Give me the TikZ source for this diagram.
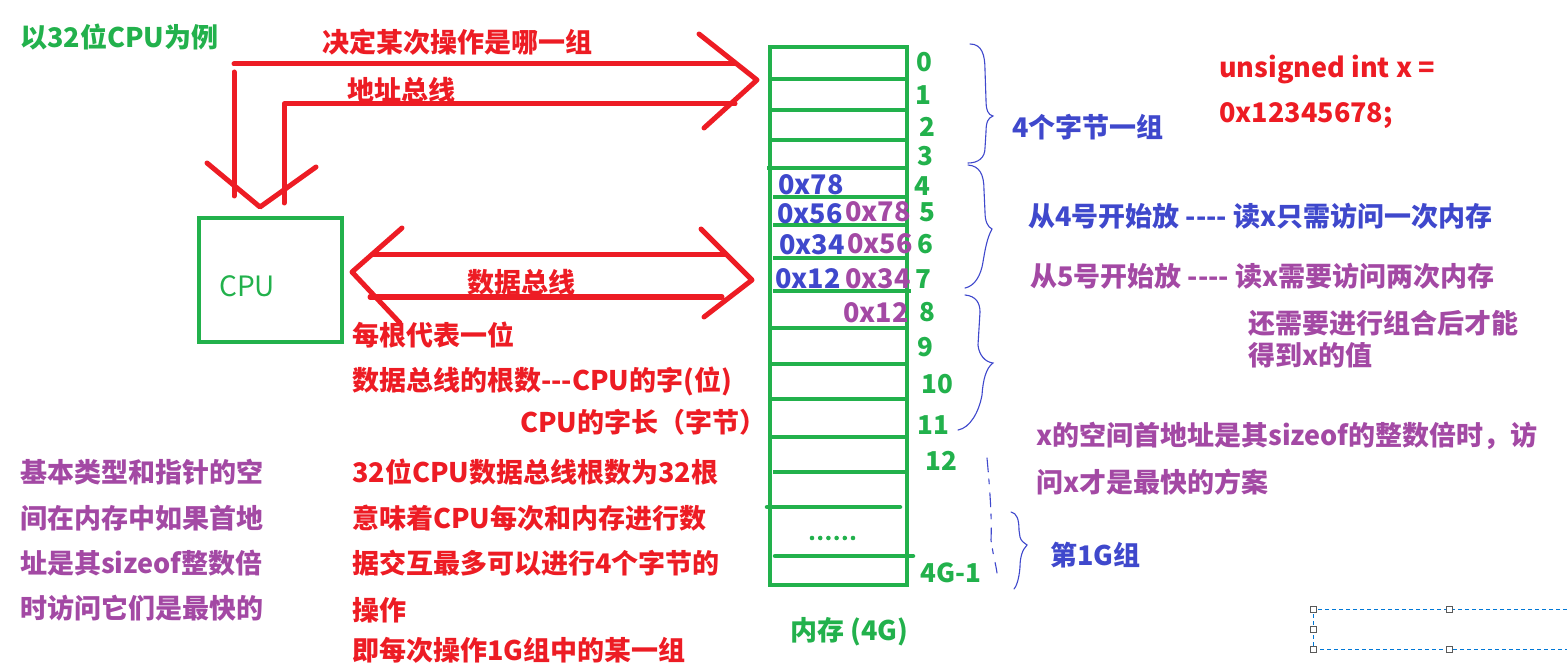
\documentclass[tikz,border=0pt]{standalone}
\usepackage{fontspec}
\setmainfont{Noto Sans CJK SC}
\definecolor{pred}{HTML}{ED1C24}
\definecolor{pgreen}{HTML}{22B14C}
\definecolor{pblue}{HTML}{3F48CC}
\definecolor{ppurple}{HTML}{A349A4}
\definecolor{selblue}{HTML}{0078D7}
\begin{document}
\begin{tikzpicture}[x=1pt,y=-1pt,
  txt/.style={inner sep=0pt, anchor=base west, font=\fontsize{27}{31}\selectfont\bfseries},
  num/.style={inner sep=0pt, anchor=base, text=pgreen, font=\fontsize{26}{30}\selectfont\bfseries},
  bus/.style={draw=pred, line width=5pt, line cap=round, line join=round},
  mem/.style={draw=pgreen, line width=4.5pt},
  brace/.style={draw=pblue, line width=1.1pt, line cap=round},
  handle/.style={draw=black!65, fill=white, line width=0.8pt, minimum size=6pt, inner sep=0pt}]
\useasboundingbox (0,0) rectangle (1567,671);

% ---------- address bus ----------
\coordinate (a1) at (234,64);   \coordinate (a2) at (735,64);
\coordinate (a3) at (234,72);   \coordinate (a4) at (234,196);
\coordinate (b1) at (284,203);  \coordinate (b2) at (284,104);  \coordinate (b3) at (735,104);
\coordinate (ra1) at (699,34);  \coordinate (ra2) at (757,80);  \coordinate (ra3) at (704,128);
\coordinate (da1) at (207,163); \coordinate (da2) at (260,207); \coordinate (da3) at (316,167);
\draw[bus] (a1) -- (a2);
\draw[bus] (a3) -- (a4);
\draw[bus] (b1) -- (b2) -- (b3);
\draw[bus] (ra1) -- (ra2) -- (ra3);
\draw[bus] (da1) -- (da2) -- (da3);
\node[txt, text=pred] (t1) at (322,53) {决定某次操作是哪一组};
\node[txt, text=pred] (t2) at (347,101) {地址总线};

% ---------- CPU ----------
\draw[draw=pgreen, line width=4.5pt] (199,218) rectangle (342,342);
\node[inner sep=0pt, anchor=base west, text=pgreen, font=\fontsize{28}{32}\selectfont] (cpu) at (219,296) {CPU};
\node[txt, text=pgreen] (t0) at (20,48) {以32位CPU为例};

% ---------- data bus ----------
\coordinate (d1) at (372,255); \coordinate (d2) at (725,255);
\coordinate (d3) at (370,297); \coordinate (d4) at (722,297);
\coordinate (la1) at (402,228); \coordinate (la2) at (352,272); \coordinate (la3) at (400,323);
\coordinate (rb1) at (701,229); \coordinate (rb2) at (752,280); \coordinate (rb3) at (704,317);
\draw[bus] (d1) -- (d2);
\draw[bus] (d3) -- (d4);
\draw[bus] (la1) -- (la2) -- (la3);
\draw[bus] (rb1) -- (rb2) -- (rb3);
\node[txt, text=pred] (t3) at (467,292) {数据总线};

% ---------- red notes ----------
\node[txt, text=pred] (r1) at (352,345) {每根代表一位};
\node[txt, text=pred] (r2) at (352,390) {数据总线的根数-{}-{}-CPU的字(位)};
\node[txt, text=pred] (r3) at (520,432) {CPU的字长（字节）};
\node[txt, text=pred] (r4) at (352,482) {32位CPU数据总线根数为32根};
\node[txt, text=pred] (r5) at (352,528) {意味着CPU每次和内存进行数};
\node[txt, text=pred] (r6) at (352,573) {据交互最多可以进行4个字节的};
\node[txt, text=pred] (r7) at (352,620) {操作};
\node[txt, text=pred] (r8) at (352,660) {即每次操作1G组中的某一组};

% ---------- purple notes, left ----------
\node[txt, text=ppurple] (p1) at (20,482) {基本类型和指针的空};
\node[txt, text=ppurple] (p2) at (20,528) {间在内存中如果首地};
\node[txt, text=ppurple] (p3) at (20,573) {址是其sizeof整数倍};
\node[txt, text=ppurple] (p4) at (20,618) {时访问它们是最快的};

% ---------- memory column ----------
\draw[mem] (770,47) rectangle (907,585);
\foreach \yy in {79,110,140} \draw[mem] (770,\yy) -- (907,\yy);
\draw[mem] (767,168) -- (907,168);
\draw[mem] (773,197) -- (905,197);
\draw[mem] (773,225) -- (907,225);
\draw[mem] (773,258) -- (907,258);
\draw[mem] (773,291) -- (911,291);
\foreach \yy in {328,364,399,437} \draw[mem] (770,\yy) -- (907,\yy);
\draw[mem] (773,472) -- (905,472);
\draw[mem, line cap=round] (767,507) -- (900,507);
\draw[mem, line cap=round] (775,556) -- (913,556);
\foreach \i in {0,...,5} \fill[pgreen] (812+\i*8.2,538) circle (2.3pt);
\node[txt, text=pgreen] (memlbl) at (790,640) {内存 (4G)};

% row numbers
\node[num] (n0) at (924,72) {0};
\node[num] (n1) at (923,105) {1};
\node[num] (n2) at (927,137) {2};
\node[num] (n3) at (925,166) {3};
\node[num] (n4) at (922,196) {4};
\node[num] (n5) at (927,222) {5};
\node[num] (n6) at (925,254) {6};
\node[num] (n7) at (923,289) {7};
\node[num] (n8) at (927,321) {8};
\node[num] (n9) at (925,356) {9};
\node[num] (n10) at (937,393) {10};
\node[num] (n11) at (933,434) {11};
\node[num] (n12) at (941,470) {12};
\node[num] (nlast) at (951,582) {4G-1};

% byte values
\node[txt, text=pblue] (bx1) at (778,195) {0x78};
\node[txt, text=pblue] (bx2) at (777,224) {0x56};
\node[txt, text=pblue] (bx3) at (779,255) {0x34};
\node[txt, text=pblue] (bx4) at (775,289) {0x12};
\node[txt, text=ppurple] (px1) at (845,222) {0x78};
\node[txt, text=ppurple] (px2) at (847,254) {0x56};
\node[txt, text=ppurple] (px3) at (845,289) {0x34};
\node[txt, text=ppurple] (px4) at (843,322) {0x12};

% ---------- braces ----------
\draw[brace] (970,44) .. controls (982,44) and (985,55) .. (985,70) -- (986,100)
  .. controls (986,110) and (988,115) .. (993,116)
  .. controls (988,118) and (986,122) .. (986,132) -- (985,148)
  .. controls (985,158) and (978,163) .. (968,163);
\draw[brace] (968,165) .. controls (980,166) and (984,175) .. (984,190) -- (985,212)
  .. controls (985,222) and (988,227) .. (992,229)
  .. controls (987,238) and (985,250) .. (983,262)
  .. controls (981,275) and (975,286) .. (965,288);
\draw[brace] (965,295) .. controls (976,296) and (980,303) .. (980,312) -- (978,345)
  .. controls (979,355) and (985,362) .. (993,363)
  .. controls (986,368) and (983,380) .. (982,395)
  .. controls (979,412) and (970,428) .. (958,430);
\draw[brace, dash pattern=on 14pt off 7pt on 5pt off 9pt] (987,458) .. controls (990,490) and (992,520) .. (991,540)
  .. controls (993,555) and (996,565) .. (997,573);
\draw[brace] (1011,512) .. controls (1017,513) and (1019,520) .. (1019,530) -- (1020,537)
  .. controls (1021,541) and (1024,543) .. (1027,545)
  .. controls (1022,550) and (1020,558) .. (1020,567)
  .. controls (1019,580) and (1016,587) .. (1014,589);

% ---------- right-hand notes ----------
\node[txt, text=pred] (c1) at (1219,78) {unsigned int x =};
\node[txt, text=pred] (c2) at (1219,123) {0x12345678;};
\node[txt, text=pblue] (g1) at (1012,138) {4个字节一组};
\node[txt, text=pblue] (g2) at (1028,227) {从4号开始放 -{}-{}-{}- 读x只需访问一次内存};
\node[txt, text=ppurple] (g3) at (1030,287) {从5号开始放 -{}-{}-{}- 读x需要访问两次内存};
\node[txt, text=ppurple] (g4) at (1248,333) {还需要进行组合后才能};
\node[txt, text=ppurple] (g5) at (1248,365) {得到x的值};
\node[txt, text=ppurple] (g6) at (1036,445) {x的空间首地址是其sizeof的整数倍时，访};
\node[txt, text=ppurple] (g7) at (1036,492) {问x才是最快的方案};
\node[txt, text=pblue] (g8) at (1050,565) {第1G组};

% ---------- selection frame ----------
\draw[selblue, line width=0.9pt, dash pattern=on 4pt off 3pt] (1567,609) -- (1313,609) -- (1313,649) -- (1567,649);
\foreach \p/\q in {1313/609,1449/609,1313/629,1313/649,1449/649}
  \node[handle] at (\p,\q) {};
\end{tikzpicture}
\end{document}
